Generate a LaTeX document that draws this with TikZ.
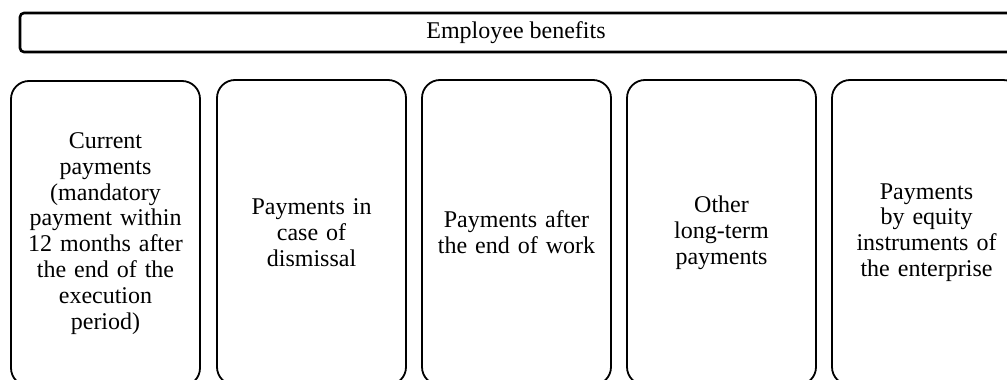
\documentclass[tikz,border=0pt]{standalone}
\usepackage{fontspec}
\setmainfont{Liberation Serif}

\tikzset{
    headbox/.style={draw, line width=2.6pt, rounded corners=4pt,
        minimum width=992pt, minimum height=39pt, inner sep=0pt},
    kindbox/.style={draw, line width=1.8pt, rounded corners=18pt,
        minimum width=189pt, minimum height=305pt,
        text width=180pt, align=center, inner sep=0pt}
}

\begin{document}
\begin{tikzpicture}[x=1pt, y=-1pt, font=\fontsize{24}{25.8}\selectfont]
    \useasboundingbox (0,0) rectangle (1007,380);

    % general heading
    \node[headbox] (benefits) at (516,32.5) {Employee benefits};

    % kinds of benefits
    \node[kindbox] (current) at (105.5,233.5)
        {Current\\payments\\(mandatory\\payment within\\12 months after\\the end of the\\execution\\period)};
    \node[kindbox] (dismissal) at (311.5,232.5)
        {Payments in\\case of\\dismissal};
    \node[kindbox] (afterwork) at (516.5,232.5)
        {Payments after\\the end of work};
    \node[kindbox] (longterm) at (721.5,232.5)
        {Other\\long-term\\payments};
    \node[kindbox] (equity) at (926.5,232.5)
        {Payments\\by equity\\instruments of\\the enterprise};
\end{tikzpicture}
\end{document}
